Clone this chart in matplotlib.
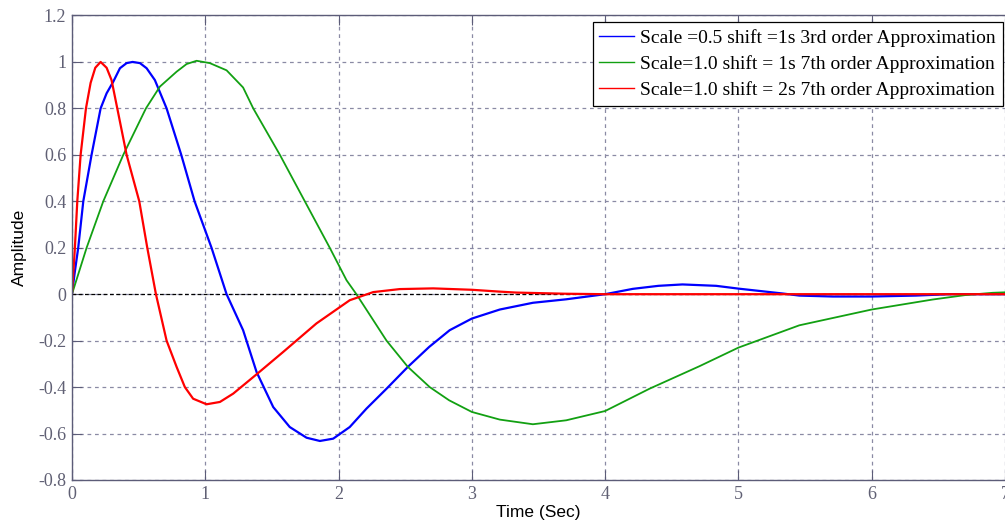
import numpy as np
import matplotlib
matplotlib.use('Agg')
import matplotlib.pyplot as plt

# values
blue_t = [0, 0.02, 0.047, 0.085, 0.147, 0.215, 0.26, 0.31, 0.36, 0.41, 0.455, 0.51, 0.56, 0.622,
          0.71, 0.82, 0.92, 1.047, 1.16, 1.284, 1.385, 1.51, 1.634, 1.76, 1.86, 1.96, 2.084,
          2.209, 2.36, 2.52, 2.68, 2.834, 3.0, 3.21, 3.458, 3.708, 4.0,
          4.208, 4.4, 4.58, 4.833, 5.0, 5.332, 5.457, 5.708, 6.0, 6.33, 6.58, 7.0]
blue_y = [0, 0.09, 0.2, 0.4, 0.6, 0.8, 0.865, 0.915, 0.973, 0.995, 1.0, 0.995, 0.973, 0.922,
          0.8, 0.6, 0.4, 0.2, 0.0, -0.155, -0.335, -0.486, -0.572, -0.618, -0.632, -0.622, -0.572,
          -0.493, -0.407, -0.313, -0.227, -0.155, -0.105, -0.066, -0.037, -0.022, 0.0,
          0.023, 0.036, 0.042, 0.036, 0.024, 0.003, -0.006, -0.01, -0.01, -0.006, 0.0, 0.0]

green_t = [0, 0.11, 0.235, 0.385, 0.555, 0.66, 0.785, 0.86, 0.935, 1.034, 1.16, 1.284, 1.36,
           1.56, 1.747, 1.934, 2.06, 2.134, 2.36, 2.52, 2.684, 2.83, 3.0, 3.21, 3.458, 3.708,
           4.0, 4.333, 4.708, 5.0, 5.457, 6.0, 6.457, 6.7, 6.907, 7.0]
green_y = [0, 0.2, 0.4, 0.6, 0.8, 0.894, 0.958, 0.991, 1.005, 0.995, 0.964, 0.89, 0.8,
           0.6, 0.4, 0.2, 0.06, 0.0, -0.2, -0.313, -0.4, -0.457, -0.507, -0.54, -0.56, -0.543,
           -0.503, -0.407, -0.31, -0.23, -0.134, -0.066, -0.023, -0.004, 0.006, 0.008]

red_t = [0, 0.022, 0.04, 0.065, 0.105, 0.14, 0.175, 0.215, 0.26, 0.297, 0.34, 0.41, 0.505,
         0.565, 0.63, 0.71, 0.785, 0.847, 0.909, 1.01, 1.11, 1.21, 1.385, 1.584, 1.834, 2.084,
         2.26, 2.459, 2.71, 3.0, 3.21, 3.333, 3.7, 4.0, 5.0, 6.0, 7.0]
red_y = [0, 0.2, 0.4, 0.6, 0.8, 0.91, 0.975, 1.0, 0.975, 0.922, 0.8, 0.6, 0.4,
         0.2, 0.0, -0.2, -0.313, -0.4, -0.45, -0.474, -0.464, -0.428, -0.345, -0.249, -0.126, -0.026,
         0.009, 0.022, 0.025, 0.019, 0.011, 0.007, 0.002, 0.0, 0.0, 0.0, 0.0]

labels = ['Scale =0.5 shift =1s 3rd order Approximation',
          'Scale=1.0 shift = 1s 7th order Approximation',
          'Scale=1.0 shift = 2s 7th order Approximation']
xticks = [0, 1, 2, 3, 4, 5, 6, 7]
yticks = [-0.8, -0.6, -0.4, -0.2, 0, 0.2, 0.4, 0.6, 0.8, 1, 1.2]

axcol = '#5c5c78'
fig = plt.figure(figsize=(10.05, 5.27), dpi=100)
ax = fig.add_axes([0.0716, 0.0892, 0.9284, 0.8814])

ax.plot(blue_t, blue_y, color='#0000ff', lw=1.6, label=labels[0])
ax.plot(green_t, green_y, color='#12a012', lw=1.3, label=labels[1])
ax.plot(red_t, red_y, color='#ff0000', lw=1.6, label=labels[2])
ax.axhline(0, color='black', lw=0.9, ls=(0, (3, 2)), zorder=1)

ax.set_xlim(0, 7)
ax.set_ylim(-0.8, 1.2)
ax.set_xticks(xticks)
ax.set_yticks(yticks)
ax.set_xticklabels([str(v) for v in xticks])
ax.set_yticklabels(['%g' % v for v in yticks])
ax.grid(True, color='#8a8aa4', ls=(0, (3, 3)), lw=0.9)
ax.set_axisbelow(True)

for s in ['left', 'bottom', 'top']:
    ax.spines[s].set_color(axcol)
    ax.spines[s].set_linewidth(1.0)
ax.spines['right'].set_visible(False)
ax.tick_params(direction='in', length=7, color=axcol, labelcolor='#606074',
               top=True, labelsize=13, pad=4)
for lab in ax.get_xticklabels() + ax.get_yticklabels():
    lab.set_family('Liberation Serif')

ax.set_xlabel('Time (Sec)', fontsize=12.5, family='Liberation Sans', labelpad=2)
ax.set_ylabel('Amplitude', fontsize=12.5, family='Liberation Sans', labelpad=8)

leg = ax.legend(loc='upper right', prop={'family': 'Liberation Serif', 'size': 14},
                fancybox=False, framealpha=1, edgecolor='black', handlelength=1.8,
                handletextpad=0.3, borderpad=0.35, labelspacing=0.42, borderaxespad=0,
                bbox_to_anchor=(0.9975, 0.985))
leg.get_frame().set_linewidth(0.9)
for line in leg.get_lines():
    line.set_linewidth(1.0)

fig.savefig('out.png', dpi=100)
